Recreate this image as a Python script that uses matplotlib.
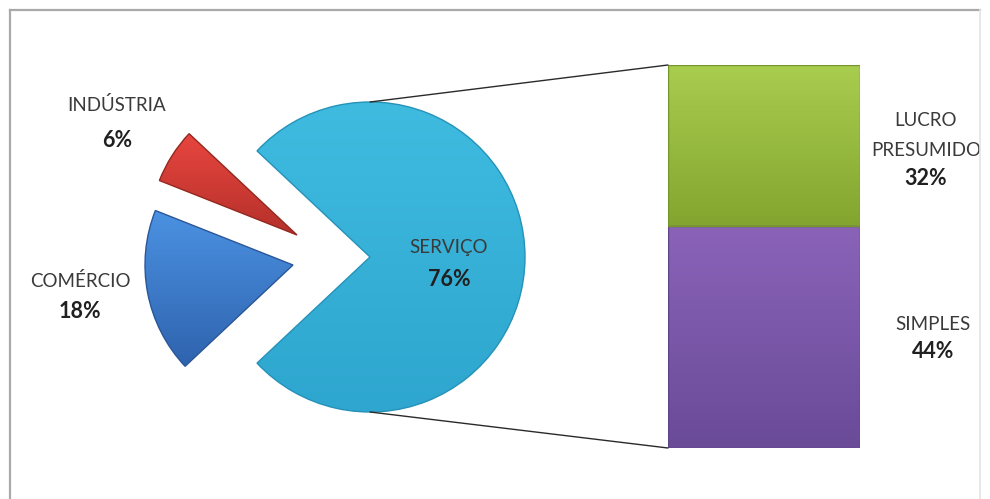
import numpy as np
import matplotlib
matplotlib.use("Agg")
import matplotlib.pyplot as plt
from matplotlib.colors import LinearSegmentedColormap
from matplotlib.patches import ConnectionPatch
from matplotlib.lines import Line2D

# ---- data ----
pie_labels = ["SERVIÇO", "INDÚSTRIA", "COMÉRCIO"]
pie_values = [76, 6, 18]
bar_labels = ["SIMPLES", "LUCRO\nPRESUMIDO"]
bar_values = [44, 32]

# ---- style ----
W, H = 990, 499
pie_center = (370, H - 257)
pie_radius = 155
small_radius = 148
# offsets (px) for the pulled-out slices
pull = {"INDÚSTRIA": (-73, 22), "COMÉRCIO": (-77, -8)}
pie_shades = {
    "SERVIÇO": ("#3fbbe0", "#2ea6cf"),
    "INDÚSTRIA": ("#e8463f", "#b5302a"),
    "COMÉRCIO": ("#4b92e2", "#2f63ae"),
}
pie_edges = {"SERVIÇO": "#2592b8", "INDÚSTRIA": "#93281f", "COMÉRCIO": "#2a5799"}
bar_shades = [("#8a63b8", "#6a4b98"), ("#a9cd4f", "#83a52f")]
bar_edges = ["#5e4488", "#76952a"]
# (x, y of first name line, y of percentage) in pixels from the top
label_pos = {
    "SERVIÇO": (449, 248, 279),
    "INDÚSTRIA": (117, 105, 140),
    "COMÉRCIO": (80, 281, 312),
}
bar_label_pos = [(933, 325, 352), (926, 120, 178)]
line_gap = 30
name_size, pct_size = 13.5, 15.5
name_color, pct_color = "#3a3a3a", "#202020"

plt.rcParams["font.family"] = ["Lato", "DejaVu Sans"]

fig = plt.figure(figsize=(W / 100, H / 100), dpi=100)
fig.patch.set_facecolor("white")
ax = fig.add_axes([0, 0, 1, 1])


def shade(axis, patch, c_top, c_bot, extent):
    cmap = LinearSegmentedColormap.from_list("g", [c_bot, c_top])
    grad = np.linspace(0, 1, 256).reshape(-1, 1)
    im = axis.imshow(grad, extent=extent, origin="lower", cmap=cmap,
                     aspect="auto", interpolation="bilinear",
                     zorder=patch.get_zorder() - 0.5)
    im.set_clip_path(patch)
    patch.set_facecolor("none")


def put_label(x, y1, y2, name, value):
    for i, line in enumerate(name.split("\n")):
        ax.text(x, H - (y1 + i * line_gap), line, ha="center", va="center",
                fontsize=name_size, color=name_color, zorder=5)
    ax.text(x, H - y2, f"{value}%", ha="center", va="center", fontsize=pct_size,
            fontweight="bold", color=pct_color, zorder=5)


start = -pie_values[0] * 3.6 / 2
wedges, _ = ax.pie(pie_values, startangle=start, counterclock=True,
                   center=pie_center, radius=pie_radius,
                   wedgeprops=dict(linewidth=1.0, zorder=3), frame=True)

for w, name in zip(wedges, pie_labels):
    if name in pull:
        dx, dy = pull[name]
        w.set_center((pie_center[0] + dx, pie_center[1] + dy))
        w.set_radius(small_radius)
    w.set_edgecolor(pie_edges[name])
    ext = w.get_path().get_extents()
    shade(ax, w, *pie_shades[name], [ext.x0, ext.x1, ext.y0, ext.y1])

for name, v in zip(pie_labels, pie_values):
    put_label(*label_pos[name], name, v)

ax.set_xlim(0, W)
ax.set_ylim(0, H)
ax.set_aspect("auto")
ax.axis("off")

# ---- stacked bar ----
bx0, bx1, by0, by1 = 668, 860, 65, 448
axb = fig.add_axes([bx0 / W, (H - by1) / H, (bx1 - bx0) / W, (by1 - by0) / H])
bottom = 0
for v, (ct, cb), ec in zip(bar_values, bar_shades, bar_edges):
    rect = axb.bar(0, v, bottom=bottom, width=1.0, edgecolor=ec,
                   linewidth=1.0, zorder=3)[0]
    shade(axb, rect, ct, cb, [-0.5, 0.5, bottom, bottom + v])
    bottom += v
axb.set_xlim(-0.5, 0.5)
axb.set_ylim(0, sum(bar_values))
axb.axis("off")

for name, v, pos in zip(bar_labels, bar_values, bar_label_pos):
    put_label(*pos, name, v)

# ---- connector lines from the top/bottom of the pie to the bar ----
for ang, yb in ((90, 1), (270, 0)):
    px = pie_center[0] + pie_radius * np.cos(np.radians(ang))
    py = pie_center[1] + pie_radius * np.sin(np.radians(ang))
    con = ConnectionPatch(xyA=(0, yb), coordsA=axb.transAxes,
                          xyB=(px, py), coordsB=ax.transData,
                          color="#2a2a2a", linewidth=1.0, zorder=1)
    fig.add_artist(con)

# ---- chart frame ----
fig.add_artist(Line2D([9.5 / W, 9.5 / W], [0, 1 - 10 / H], transform=fig.transFigure,
                      color="#a9a9a9", linewidth=1.6))
fig.add_artist(Line2D([9.5 / W, 980 / W], [1 - 10 / H, 1 - 10 / H], transform=fig.transFigure,
                      color="#a9a9a9", linewidth=1.6))
fig.add_artist(Line2D([980 / W, 980 / W], [0, 1 - 10 / H], transform=fig.transFigure,
                      color="#e4e4e4", linewidth=1.2))

fig.savefig("out.png", dpi=100, facecolor="white")
